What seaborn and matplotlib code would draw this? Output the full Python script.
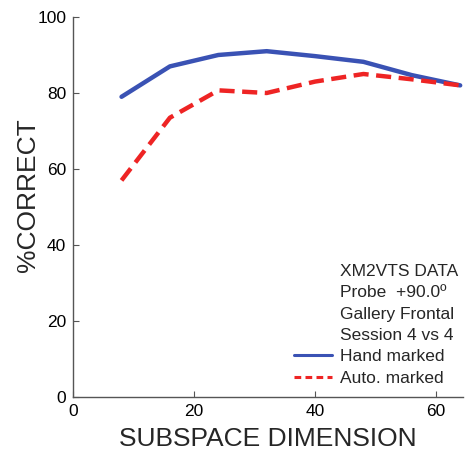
import matplotlib
matplotlib.use("Agg")
import matplotlib.pyplot as plt
from matplotlib.lines import Line2D
import seaborn as sns
import pandas as pd

# Recognition rate against subspace dimension
dimension = [8, 16, 24, 32, 40, 48, 56, 64]
hand_marked = [79, 87, 90, 91, 89.7, 88.2, 84.7, 82]
auto_marked = [57, 73.5, 80.7, 80, 83, 85, 83.6, 82]
series_names = ["Hand marked", "Auto. marked"]
info_lines = ["XM2VTS DATA", "Probe  +90.0\u00ba", "Gallery Frontal", "Session 4 vs 4"]

x_ticks = [0, 20, 40, 60]
y_ticks = [0, 20, 40, 60, 80, 100]

sns.set_theme(style="ticks")
plt.rcParams["font.family"] = ["Liberation Sans", "DejaVu Sans"]

df = pd.DataFrame({
    "dim": dimension * 2,
    "pct": hand_marked + auto_marked,
    "method": [series_names[0]] * len(dimension) + [series_names[1]] * len(dimension),
})

blue = "#3a52b4"
red = "#ee2424"

fig = plt.figure(figsize=(4.66, 4.59), dpi=100)
ax = fig.add_axes([0.157, 0.135, 0.837, 0.828])

sns.lineplot(
    data=df, x="dim", y="pct", hue="method", style="method",
    palette={series_names[0]: blue, series_names[1]: red},
    dashes={series_names[0]: "", series_names[1]: (3.4, 1.7)},
    linewidth=3.2, legend=False, ax=ax,
)

ax.set_xlim(0, 64.5)
ax.set_ylim(0, 100)
ax.set_xticks(x_ticks)
ax.set_yticks(y_ticks)
ax.tick_params(direction="in", length=4, width=0.8, colors="#555555",
               labelcolor="black", labelsize=12.5, pad=5)
for side in ["top", "right"]:
    ax.spines[side].set_visible(False)
for side in ["left", "bottom"]:
    ax.spines[side].set_color("#555555")
    ax.spines[side].set_linewidth(1.0)

ax.set_xlabel("SUBSPACE DIMENSION", fontsize=19, labelpad=6)
ax.set_ylabel("%CORRECT", fontsize=19)
ax.yaxis.set_label_coords(-0.085, 0.53)

handles = [Line2D([], [], linestyle="none") for _ in info_lines]
handles.append(Line2D([], [], color=blue, linewidth=2.2))
handles.append(Line2D([], [], color=red, linewidth=2.2, dashes=(2.2, 1.4)))
labels = info_lines + series_names
ax.legend(handles, labels, loc="lower right", bbox_to_anchor=(1.015, 0.0),
          frameon=False, fontsize=12.5, handlelength=2.2, handletextpad=0.45,
          labelspacing=0.36, borderaxespad=0.25)

fig.savefig("out.png", dpi=100)
